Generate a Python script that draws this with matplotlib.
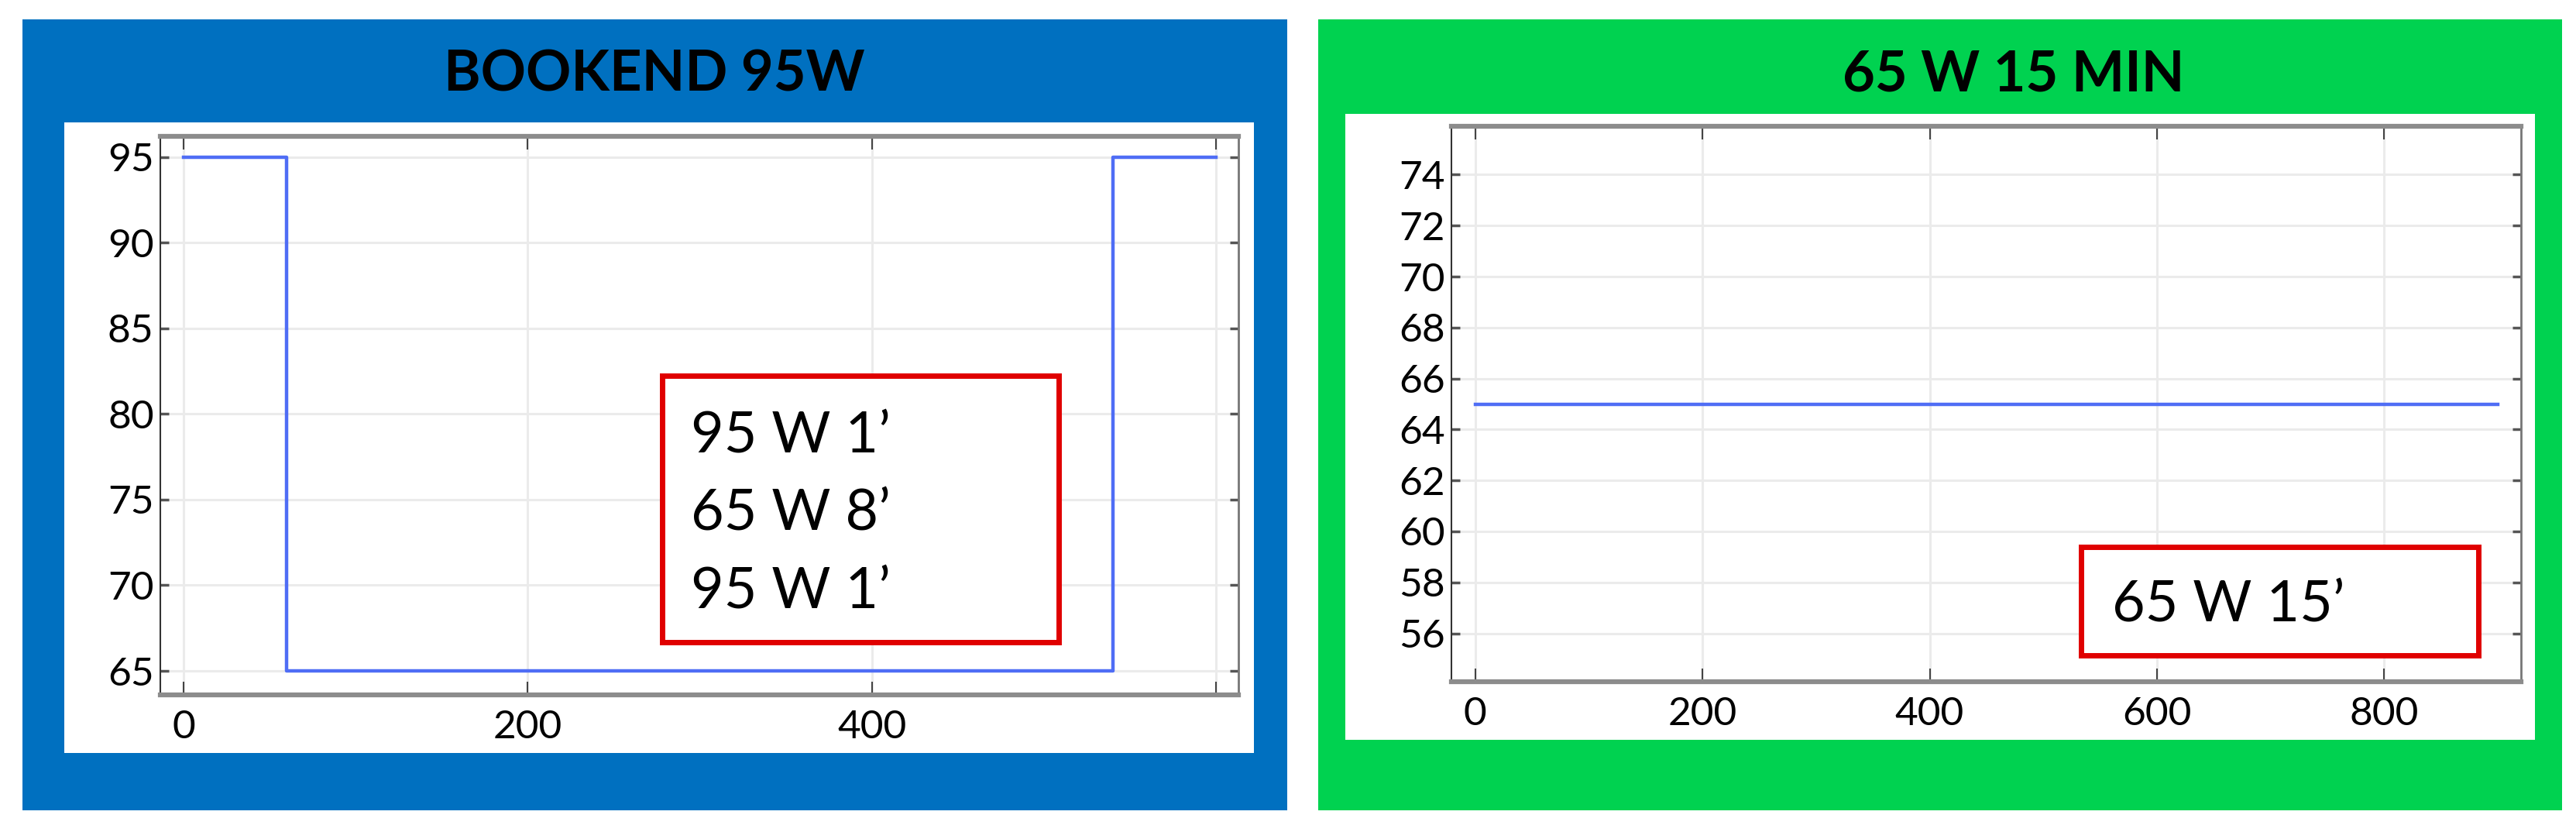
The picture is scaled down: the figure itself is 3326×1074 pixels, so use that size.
import matplotlib
matplotlib.use("Agg")
import matplotlib.pyplot as plt
from matplotlib.patches import Rectangle

# ---- data ----
left_title = "BOOKEND 95W"
left_time = [0, 60, 540, 600]
left_power = [95, 65, 95, 95]
left_xticks = [0, 200, 400, 600]
left_xticklabels = ["0", "200", "400", ""]
left_yticks = [65, 70, 75, 80, 85, 90, 95]
left_box_lines = ["95 W 1\u2019", "65 W 8\u2019", "95 W 1\u2019"]

right_title = "65 W 15 MIN"
right_time = [0, 900]
right_power = [65, 65]
right_xticks = [0, 200, 400, 600, 800]
right_yticks = [56, 58, 60, 62, 64, 66, 68, 70, 72, 74]
right_box_lines = ["65 W 15\u2019"]

W, H = 3326, 1074
fig = plt.figure(figsize=(W / 100, H / 100), dpi=100)
plt.rcParams['font.family'] = ['Lato', 'DejaVu Sans']

def fx(px):
    return px / W

def fy(py):
    return 1 - py / H

def rect_px(x0, y0, x1, y1, color):
    fig.add_artist(Rectangle((fx(x0), fy(y1)), fx(x1) - fx(x0), fy(y0) - fy(y1),
                             transform=fig.transFigure, facecolor=color,
                             edgecolor='none', zorder=0))

# panel backgrounds
rect_px(29, 25, 1662, 1046, '#0070c0')
rect_px(83, 158, 1619, 972, 'white')
rect_px(1702, 25, 3308, 1046, '#00d250')
rect_px(1737, 147, 3273, 955, 'white')

fig.text(fx(845), fy(118), left_title, ha='center', va='baseline',
         fontsize=52, fontweight='bold', color='black')
fig.text(fx(2600), fy(118), right_title, ha='center', va='baseline',
         fontsize=52, fontweight='bold', color='black')


def make_axes(x0, y0, x1, y1):
    ax = fig.add_axes([fx(x0), fy(y1), fx(x1) - fx(x0), fy(y0) - fy(y1)])
    ax.set_facecolor('white')
    ax.grid(True, color='#ebebeb', linewidth=2.2)
    ax.set_axisbelow(True)
    for s in ('top', 'bottom'):
        ax.spines[s].set_color('#8c8c8c')
        ax.spines[s].set_linewidth(4.5)
    ax.spines['left'].set_color('#333333')
    ax.spines['left'].set_linewidth(1.5)
    ax.spines['right'].set_color('#777777')
    ax.spines['right'].set_linewidth(2)
    ax.tick_params(axis='x', direction='in', top=True, bottom=True, length=12,
                   width=1.5, color='#444444', labelsize=37, pad=14)
    ax.tick_params(axis='y', direction='in', left=True, right=True, length=8,
                   width=2.5, color='#555555', labelsize=37, pad=6)
    return ax

# left panel
ax1 = make_axes(207, 176, 1599, 897)
ax1.step(left_time, left_power, where='post', color='#4f6df5', linewidth=3.2)
ax1.set_xlim(-13.5, 613)
ax1.set_ylim(63.6, 96.2)
ax1.set_xticks(left_xticks)
ax1.set_xticklabels(left_xticklabels)
ax1.set_yticks(left_yticks)
ax1.add_patch(Rectangle((0.4655, 0.094), 0.833 - 0.4655, 0.571 - 0.094,
                        transform=ax1.transAxes, facecolor='white',
                        edgecolor='#e00000', linewidth=5, zorder=5))
for i, line in enumerate(left_box_lines):
    ax1.text(0.492, 0.4355 - i * 0.1394, line, transform=ax1.transAxes,
             ha='left', va='baseline', fontsize=53, color='black', zorder=6)

# right panel
ax2 = make_axes(1874, 163, 3255, 880)
ax2.plot(right_time, right_power, color='#4f6df5', linewidth=3.2)
ax2.set_xlim(-21, 920.5)
ax2.set_ylim(54.1, 75.9)
ax2.set_xticks(right_xticks)
ax2.set_yticks(right_yticks)
ax2.add_patch(Rectangle((0.589, 0.047), 0.960 - 0.589, 0.243 - 0.047,
                        transform=ax2.transAxes, facecolor='white',
                        edgecolor='#e00000', linewidth=5, zorder=5))
for i, line in enumerate(right_box_lines):
    ax2.text(0.6177, 0.1088, line, transform=ax2.transAxes,
             ha='left', va='baseline', fontsize=53, color='black', zorder=6)

fig.savefig('out.png', dpi=100)
